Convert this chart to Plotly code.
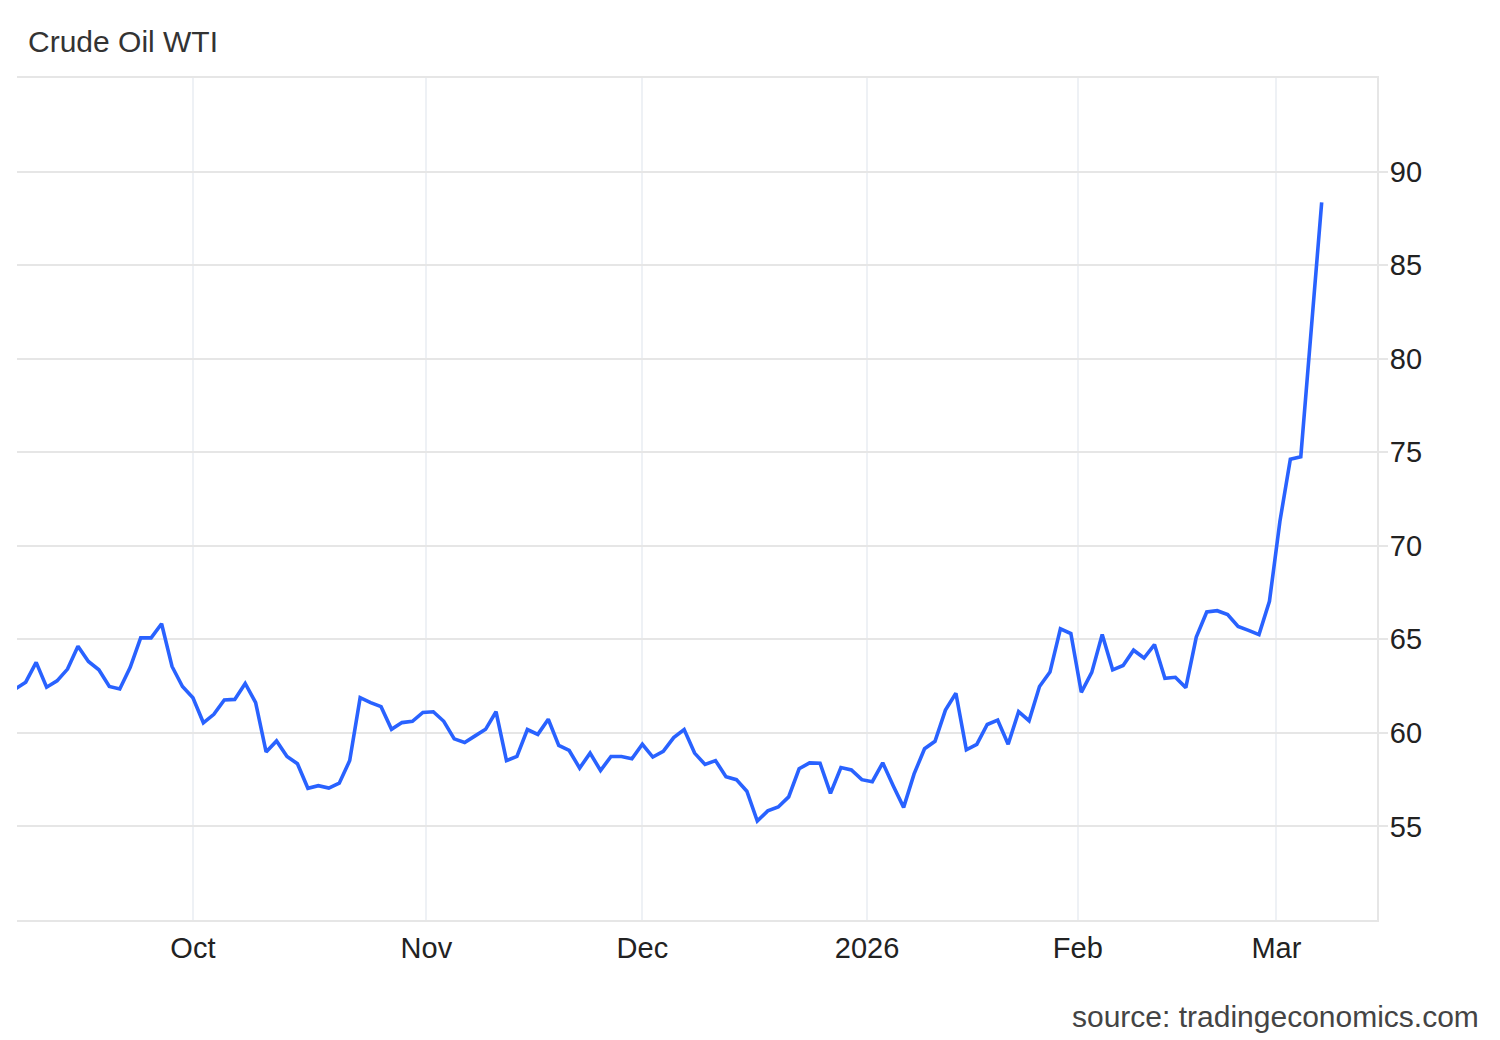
import pandas as pd
import plotly.graph_objects as go

# Trading days (NYMEX), holidays with no print
holidays = ["2025-12-25", "2026-01-01", "2026-01-19", "2026-02-16"]
dates = pd.bdate_range("2025-09-08", "2026-03-06", freq="C", holidays=holidays)

prices = [
    62.35, 62.71, 63.77, 62.44, 62.78, 63.41, 64.63, 63.82, 63.37, 62.48,
    62.35, 63.50, 65.08, 65.08, 65.83, 63.55, 62.48,
    61.88, 60.54, 60.99, 61.76, 61.79, 62.64, 61.62, 58.98, 59.57, 58.74,
    58.35, 57.04, 57.18, 57.05, 57.31, 58.52, 61.88, 61.62, 61.40, 60.19,
    60.55, 60.62,
    61.09, 61.13, 60.62, 59.68, 59.49, 59.84, 60.19, 61.13, 58.52, 58.74,
    60.18, 59.92, 60.73, 59.33, 59.06, 58.12, 58.92, 57.99, 58.74, 58.74,
    58.62, 59.39, 58.71, 59.01, 59.75, 60.18, 58.92, 58.31, 58.52, 57.66,
    57.50, 56.88, 55.29, 55.83, 56.04, 56.58, 58.08, 58.40, 58.38,
    56.77, 58.15, 58.02, 57.50, 57.39, 58.40, 57.18, 56.02, 57.81, 59.15,
    59.55, 61.22, 62.12, 59.10, 59.39, 60.45, 60.68, 59.39, 61.13, 60.65,
    62.48, 63.25, 65.56, 65.31, 62.17, 63.23, 65.26, 63.37, 63.60, 64.42,
    64.00, 64.72, 62.92, 62.97, 62.42, 65.12, 66.46, 66.53, 66.33, 65.69,
    65.48, 65.25, 67.03, 71.30, 74.63, 74.76, 81.55, 88.35,
]

# Month starts; those falling on a weekend/holiday are placed inside the
# last session before them (calendar-proportional), as on the original axis
x_tickvals = ["2025-10-01", "2025-10-31 08:00", "2025-12-01",
              "2025-12-31 12:00", "2026-01-30 16:00", "2026-02-27 16:00"]
x_ticktext = ["Oct", "Nov", "Dec", "2026", "Feb", "Mar"]
y_tickvals = [55, 60, 65, 70, 75, 80, 85, 90]

title_text = "Crude Oil WTI"
source_text = "source: tradingeconomics.com"

FONT = "Liberation Sans, Arial, sans-serif"

fig = go.Figure()
fig.add_trace(go.Scatter(
    x=dates, y=prices, mode="lines",
    line=dict(color="#2962ff", width=3.6),
    hoverinfo="x+y", showlegend=False,
))

W, H = 1492, 1032
fig.update_layout(
    width=W, height=H,
    margin=dict(l=9, r=123, t=70, b=120, autoexpand=False),
    paper_bgcolor="white", plot_bgcolor="white",
    font=dict(family=FONT, size=29, color="#222"),
    title=dict(text=title_text, x=20 / W, xanchor="left", xref="container",
               y=1 - 33 / H, yanchor="middle", yref="container",
               font=dict(family=FONT, size=30, color="#333")),
    annotations=[dict(text=source_text, xref="paper", yref="paper",
                      x=(1481 - 17) / 1360, y=(920 - 1016) / 842,
                      xanchor="right", yanchor="middle", showarrow=False,
                      font=dict(family=FONT, size=30, color="#444"))],
)

fig.update_xaxes(
    type="date",
    range=["2025-09-08 04:00", "2026-03-13 07:00"],
    rangebreaks=[dict(bounds=["sat", "mon"]), dict(values=holidays)],
    tickmode="array", tickvals=x_tickvals, ticktext=x_ticktext,
    showgrid=True, gridcolor="#eef1f5", gridwidth=2,
    showline=True, linecolor="#e6e6e6", linewidth=2, mirror=True,
    ticks="outside", ticklen=1, tickcolor="rgba(0,0,0,0)",
    tickfont=dict(family=FONT, size=29, color="#222"),
    zeroline=False,
)

fig.update_yaxes(
    side="right", range=[50, 95],
    tickmode="array", tickvals=y_tickvals,
    showgrid=True, gridcolor="#e6e6e6", gridwidth=2,
    showline=True, linecolor="#e6e6e6", linewidth=2,
    ticks="outside", ticklen=9, tickcolor="#e6e6e6", tickwidth=2,
    ticklabelstandoff=-4,
    tickfont=dict(family=FONT, size=29, color="#222"),
    zeroline=False,
)

fig.write_html("out.html")
